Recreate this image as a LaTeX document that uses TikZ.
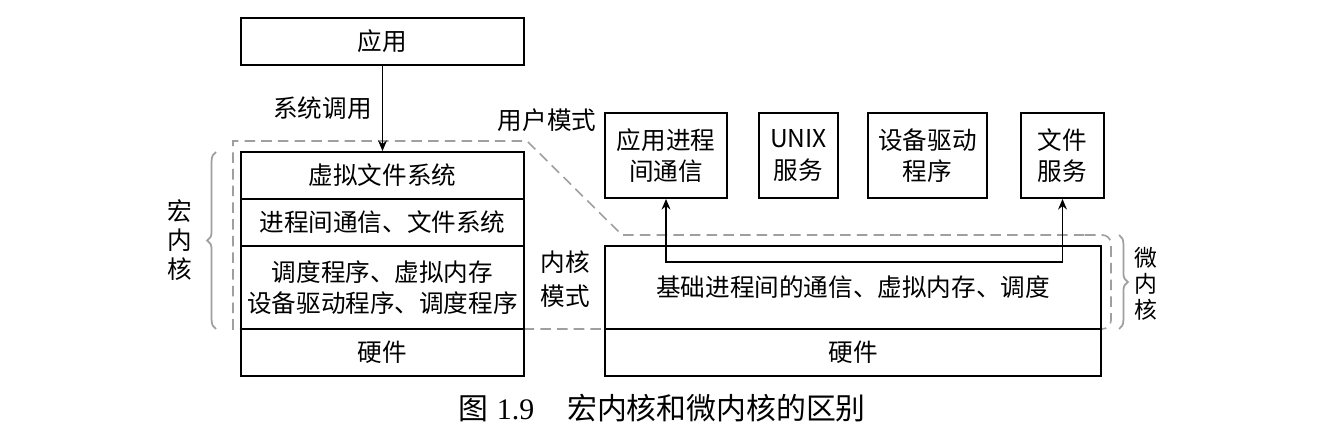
\documentclass[tikz,border=0pt]{standalone}
\usepackage{fontspec}
\setmainfont{Liberation Serif}
\newfontfamily\cjk{Noto Sans CJK SC}
\usetikzlibrary{arrows.meta,decorations.pathreplacing}
\begin{document}
\begin{tikzpicture}[x=0.02cm,y=-0.02cm,
  box/.style={draw,line width=1.1pt,inner sep=0pt,align=center,font=\cjk\fontsize{14}{18}\selectfont},
  lab/.style={inner sep=0pt,align=center,font=\cjk\fontsize{14}{17}\selectfont},
  modeline/.style={draw=gray!75,dash pattern=on 6pt off 3.5pt,line width=0.9pt},
  brc/.style={draw=gray!75,line width=1pt,decorate,decoration={brace,amplitude=5pt}},
  conn/.style={line width=1.1pt,{Stealth[length=6pt,width=5pt]}-{Stealth[length=6pt,width=5pt]}},
  arr/.style={line width=1.1pt,-{Stealth[length=6pt,width=5pt]}}]
\useasboundingbox[fill=white] (0,0) rectangle (1344,438);

% mode boundary (dashed)
\draw[modeline] (1085,329) -- (233,329) -- (233,141) -- (527,141) -- (622,235) -- (1085,235);
\draw[modeline,rounded corners=5pt] (1085,235) -- (1111,235) -- (1111,329) -- (1085,329);

% left column
\node[box,minimum width=5.66cm,minimum height=0.94cm] (app) at (382.5,41.5) {应用};
\node[box,minimum width=5.66cm,minimum height=0.94cm] (vfs) at (382.5,175.5) {虚拟文件系统};
\node[box,minimum width=5.66cm,minimum height=0.94cm] (ipc) at (382.5,222.5) {进程间通信、文件系统};
\node[box,minimum width=5.66cm,minimum height=1.66cm] (sched) at (382.5,287.5) {调度程序、虚拟内存\\设备驱动程序、调度程序};
\node[box,minimum width=5.66cm,minimum height=0.94cm] (hw1) at (382.5,352.5) {硬件};

% right column
\node[box,minimum width=2.44cm,minimum height=1.7cm] (ipc2) at (666,155.5) {应用进程\\间通信};
\node[box,minimum width=1.58cm,minimum height=1.7cm] (unix) at (798.5,155.5) {UNIX\\服务};
\node[box,minimum width=2.38cm,minimum height=1.7cm] (drv) at (927.5,155.5) {设备驱动\\程序};
\node[box,minimum width=1.66cm,minimum height=1.7cm] (fs) at (1062.5,155.5) {文件\\服务};
\node[box,minimum width=9.92cm,minimum height=1.66cm] (base) at (853,287.5) {\raisebox{-2pt}{基础进程间的通信、虚拟内存、调度}};
\node[box,minimum width=9.92cm,minimum height=0.94cm] (hw2) at (853,352.5) {硬件};

% connectors
\draw[arr] (app.south) -- (vfs.north);
\node[lab,anchor=east] (sys) at (372,108) {系统调用};
\coordinate (mid) at (864,262);
\draw[conn] (ipc2.south) |- (mid) -| (fs.south);

% labels
\node[lab] (user) at (547,120) {用户模式};
\node[lab,font=\cjk\fontsize{14}{19.3}\selectfont] (kern) at (565,279) {内核\\模式};
\node[lab,font=\cjk\fontsize{14}{16.5}\selectfont] (macro) at (180,240) {宏\\内\\核};
\node[lab,font=\cjk\fontsize{13}{14.8}\selectfont] (micro) at (1146,284) {微\\内\\核};

% braces
\coordinate (lb1) at (216,329);
\coordinate (lb2) at (216,152);
\draw[brc] (lb1) -- (lb2);
\coordinate (rb1) at (1119,235);
\coordinate (rb2) at (1119,329);
\draw[brc] (rb1) -- (rb2);

% caption
\node[inner sep=0pt,font=\fontsize{17}{20}\selectfont] (cap) at (662,408) {{\cjk 图}\hspace{0.3em}1.9\hspace{1.1em}{\cjk 宏内核和微内核的区别}};
\end{tikzpicture}
\end{document}
